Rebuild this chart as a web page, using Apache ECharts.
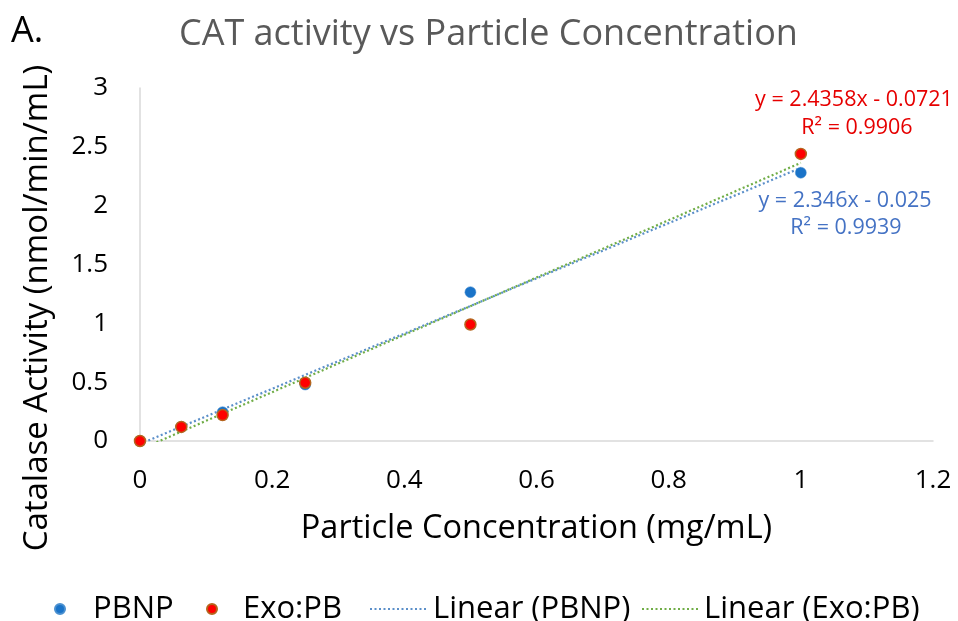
<!DOCTYPE html>
<html>
<head>
<meta charset="utf-8">
<script src="https://cdn.jsdelivr.net/npm/echarts@6/dist/echarts.min.js"></script>
<style>
html,body{margin:0;padding:0;background:#fff;}
#chart{width:958px;height:621px;}
</style>
</head>
<body>
<div id="chart"></div>
<script>
// Data
const concentrations = [0, 0.0625, 0.125, 0.25, 0.5, 1];
const pbnpValues = [0, 0.12, 0.245, 0.48, 1.265, 2.28];
const exoValues = [0, 0.12, 0.22, 0.495, 0.99, 2.44];
const xTicks = [0, 0.2, 0.4, 0.6, 0.8, 1, 1.2];
const yTicks = [0, 0.5, 1, 1.5, 2, 2.5, 3];
// Trendline coefficients as displayed on the chart [slope, intercept, R2]
const pbnpFit = [2.346, -0.025, 0.9939];
const exoFit = [2.4358, -0.0721, 0.9906];
const trendRange = [0, 1];

const FONT = 'Open Sans';
const toPairs = (xs, ys) => xs.map((x, i) => [x, ys[i]]);
const fitLine = f => trendRange.map(x => [x, f[0] * x + f[1]]);
const eq = f => 'y = ' + f[0] + 'x - ' + Math.abs(f[1]);

const BLUE = '#1a73c8', RED = '#ff0000';
const TREND_BLUE = '#5b8fc9', TREND_GREEN = '#70ad47';

const legendText = { fontFamily: FONT, fontSize: 31, color: '#000', lineHeight: 40 };
const lineLegendHide = { opacity: 0, borderWidth: 0 };

const chart = echarts.init(document.getElementById('chart'));
chart.setOption({
  animation: false,
  backgroundColor: '#ffffff',
  textStyle: { fontFamily: FONT },
  title: {
    text: 'CAT activity vs Particle Concentration',
    left: 174, top: 12,
    textStyle: { fontFamily: FONT, fontSize: 36, fontWeight: 'normal', color: '#595959' }
  },
  grid: { left: 140, right: 25, top: 88, bottom: 180, containLabel: false },
  xAxis: {
    type: 'value', min: 0, max: 1.2, interval: 0.2,
    name: 'Particle Concentration (mg/mL)',
    nameLocation: 'middle', nameGap: 71,
    nameTextStyle: { fontFamily: FONT, fontSize: 32.5, color: '#000' },
    axisLine: { show: true, lineStyle: { color: '#d9d9d9', width: 1.5 } },
    axisTick: { show: false },
    splitLine: { show: false },
    axisLabel: { fontFamily: FONT, fontSize: 26, color: '#000', margin: 27,
      formatter: v => String(xTicks.find(t => Math.abs(t - v) < 1e-9) ?? v) }
  },
  yAxis: {
    type: 'value', min: 0, max: 3, interval: 0.5,
    axisLine: { show: true, lineStyle: { color: '#d9d9d9', width: 1.5 } },
    axisTick: { show: false },
    splitLine: { show: false },
    axisLabel: { fontFamily: FONT, fontSize: 26, color: '#000', margin: 32,
      formatter: v => String(yTicks.find(t => Math.abs(t - v) < 1e-9) ?? v) }
  },
  legend: [
    { left: 49, top: 584, itemWidth: 56, itemHeight: 10, textStyle: legendText,
      data: [{ name: 'PBNP', icon: 'circle' }] },
    { left: 201, top: 584, itemWidth: 52, itemHeight: 10, textStyle: legendText,
      data: [{ name: 'Exo:PB', icon: 'circle' }] },
    { left: 364, top: 584, itemWidth: 58, itemHeight: 14, textStyle: legendText,
      data: [{ name: 'Linear (PBNP)', itemStyle: lineLegendHide }] },
    { left: 636, top: 584, itemWidth: 57, itemHeight: 14, textStyle: legendText,
      data: [{ name: 'Linear (Exo:PB)', itemStyle: lineLegendHide }] }
  ],
  graphic: [
    { type: 'text', left: 11, top: 14,
      style: { text: 'A.', font: '36px ' + FONT, fill: '#000' } },
    { type: 'text', x: 38, y: 308, rotation: Math.PI / 2,
      style: { text: 'Catalase Activity (nmol/min/mL)', font: '33px ' + FONT, fill: '#000',
        align: 'center', verticalAlign: 'middle' } },
    { type: 'text', x: 854, y: 100,
      style: { text: eq(exoFit), font: '21.5px ' + FONT, fill: '#e60000',
        align: 'center', verticalAlign: 'middle' } },
    { type: 'text', x: 857, y: 128,
      style: { text: 'R² = ' + exoFit[2], font: '21.5px ' + FONT, fill: '#e60000',
        align: 'center', verticalAlign: 'middle' } },
    { type: 'text', x: 845, y: 201,
      style: { text: eq(pbnpFit), font: '21.5px ' + FONT, fill: '#4472c4',
        align: 'center', verticalAlign: 'middle' } },
    { type: 'text', x: 846, y: 228,
      style: { text: 'R² = ' + pbnpFit[2], font: '21.5px ' + FONT, fill: '#4472c4',
        align: 'center', verticalAlign: 'middle' } }
  ],
  series: [
    {
      name: 'Linear (PBNP)', type: 'line', data: fitLine(pbnpFit), symbol: 'none', clip: true,
      z: 2,
      lineStyle: { color: TREND_BLUE, width: 2.2, type: [2, 2.5] },
      itemStyle: { color: TREND_BLUE }
    },
    {
      name: 'Linear (Exo:PB)', type: 'line', data: fitLine(exoFit), symbol: 'none', clip: true,
      z: 2,
      lineStyle: { color: TREND_GREEN, width: 2.2, type: [2, 2.5] },
      itemStyle: { color: TREND_GREEN }
    },
    {
      name: 'PBNP', type: 'scatter', data: toPairs(concentrations, pbnpValues), symbolSize: 11,
      z: 3,
      itemStyle: { color: BLUE, borderColor: '#4a90d0', borderWidth: 0.5, opacity: 1 }
    },
    {
      name: 'Exo:PB', type: 'scatter', data: toPairs(concentrations, exoValues), symbolSize: 11,
      z: 4,
      itemStyle: { color: RED, borderColor: '#b5651d', borderWidth: 1.5, opacity: 1 }
    }
  ]
});
</script>
</body>
</html>
